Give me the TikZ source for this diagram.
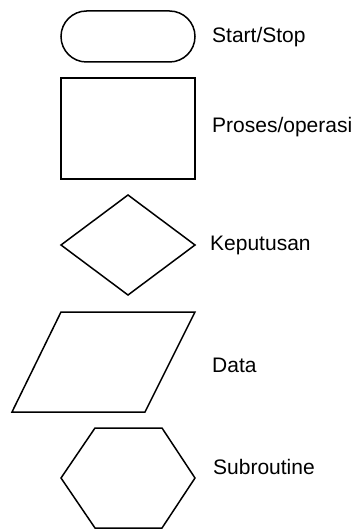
\documentclass[tikz,border=0pt]{standalone}
\usepackage{fontspec}
\setmainfont{Liberation Sans}
\begin{document}
\begin{tikzpicture}[x=1pt,y=-1pt,
  shapeline/.style={draw=black,line width=1.5pt,line join=miter},
  legendtext/.style={anchor=west,inner sep=0pt,font=\fontsize{21}{24}\selectfont}]
  \useasboundingbox (0,0) rectangle (361,529);
  % terminal
  \draw[shapeline,rounded corners=25.5pt] (61,11) rectangle (195,62);
  % process
  \draw[shapeline] (61,78) rectangle (195,179);
  % decision
  \draw[shapeline] (128,195) -- (195,245) -- (128,295) -- (61,245) -- cycle;
  % data
  \draw[shapeline] (61,312) -- (195,312) -- (145,412) -- (12,412) -- cycle;
  % subroutine
  \draw[shapeline] (95,428) -- (162,428) -- (195,478) -- (162,528) -- (95,528) -- (61,478) -- cycle;
  % labels
  \node[legendtext] (t1) at (212,37) {Start/Stop};
  \node[legendtext] (t2) at (212,127) {Proses/operasi};
  \node[legendtext] (t3) at (210,245) {Keputusan};
  \node[legendtext] (t4) at (212,365) {Data};
  \node[legendtext] (t5) at (213,467) {Subroutine};
\end{tikzpicture}
\end{document}
